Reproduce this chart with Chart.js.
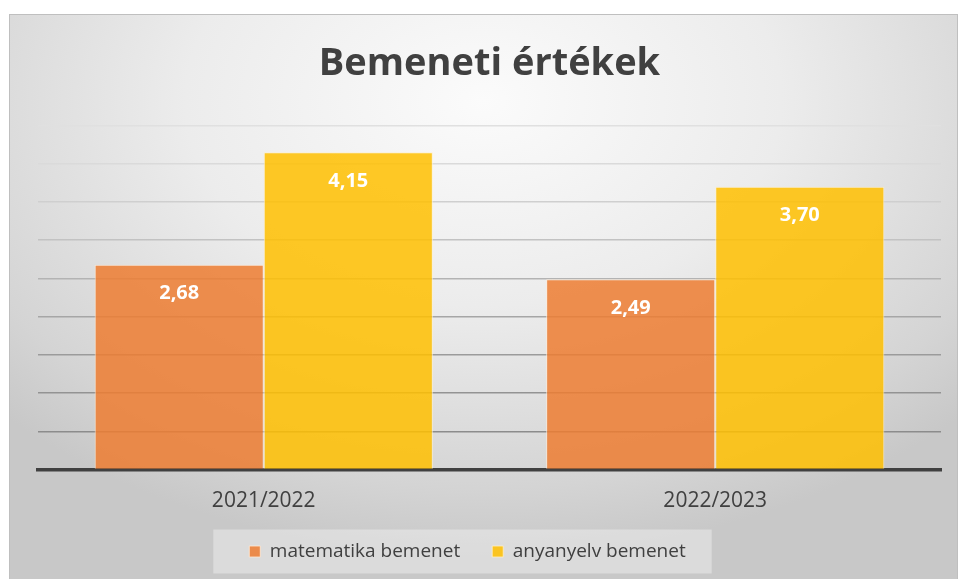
<!DOCTYPE html>
<html>
<head>
<meta charset="utf-8">
<script src="https://cdn.jsdelivr.net/npm/chart.js@4"></script>
<style>
  body { margin: 0; background: #fff; }
  #box {
    position: absolute; left: 9px; top: 14px; width: 947px; height: 570px;
    border: 1px solid #bfbfbf;
    background: radial-gradient(ellipse 70% 80% at 50% 15%, #fbfbfb 0%, #ececec 45%, #d4d4d4 85%, #c8c8c8 100%);
  }
  #wrap { position: absolute; left: 0; top: 0; width: 947px; height: 564px; }
</style>
</head>
<body>
<div id="box"><div id="wrap"><canvas id="inputs"></canvas></div></div>
<script>
// data
var years = ['2021/2022', '2022/2023'];
var mathValues = [2.68, 2.49];
var langValues = [4.15, 3.70];
var seriesNames = ['matematika bemenet', 'anyanyelv bemenet'];

var fontFamily = '"Open Sans", sans-serif';
var textColor = '#404040';

// value labels inside the bars
var barLabels = {
  id: 'barLabels',
  afterDatasetsDraw: function (chart) {
    var ctx = chart.ctx;
    ctx.save();
    ctx.fillStyle = '#ffffff';
    ctx.font = 'bold 20px ' + fontFamily;
    ctx.textAlign = 'center';
    ctx.textBaseline = 'middle';
    chart.data.datasets.forEach(function (ds, i) {
      chart.getDatasetMeta(i).data.forEach(function (bar, j) {
        var txt = ds.data[j].toFixed(2).replace('.', ',');
        ctx.fillText(txt, bar.x, bar.y + 29);
      });
    });
    ctx.restore();
  }
};

// legend sits a bit left of centre, on a light panel
var legendPanel = {
  id: 'legendPanel',
  afterLayout: function (chart) {
    chart.legend.left -= 22;
    chart.legend.right -= 22;
  },
  beforeDraw: function (chart) {
    var boxes = chart.legend.legendHitBoxes;
    if (!boxes || !boxes.length) return;
    var l = boxes[0].left, r = boxes[boxes.length - 1].left + boxes[boxes.length - 1].width;
    var cy = boxes[0].top + boxes[0].height / 2;
    var ctx = chart.ctx;
    ctx.save();
    ctx.fillStyle = 'rgba(255,255,255,0.35)';
    ctx.fillRect(l - 36, cy - 22, (r - l) + 62, 44);
    ctx.restore();
  }
};

var gridColors = ['#8a8a8a', '#8c8c8c', '#939393', '#9b9b9b', '#a6a6a6', '#b3b3b3', '#c2c2c2', '#cfcfcf', '#dadada', '#e0e0e0'];

var ctx = document.getElementById('inputs');
var chart = new Chart(ctx, {
  type: 'bar',
  data: {
    labels: years,
    datasets: [{
      label: seriesNames[0],
      data: mathValues,
      backgroundColor: 'rgba(237,125,49,0.85)',
      borderColor: 'rgba(255,235,215,0.8)',
      borderWidth: 1
    }, {
      label: seriesNames[1],
      data: langValues,
      backgroundColor: 'rgba(255,192,0,0.85)',
      borderColor: 'rgba(255,240,200,0.8)',
      borderWidth: 1
    }]
  },
  options: {
    responsive: true,
    maintainAspectRatio: false,
    animation: false,
    categoryPercentage: 0.749,
    barPercentage: 1,
    layout: { padding: { left: 28, right: 16, top: 0, bottom: 8 } },
    plugins: {
      title: {
        display: true,
        text: 'Bemeneti értékek',
        color: textColor,
        font: { family: fontFamily, size: 38, weight: 'bold' },
        padding: { top: 26, bottom: 39 }
      },
      legend: {
        position: 'bottom',
        labels: {
          color: textColor,
          font: { family: fontFamily, size: 19 },
          boxWidth: 11,
          boxHeight: 11,
          padding: 32
        }
      },
      tooltip: { enabled: false }
    },
    scales: {
      x: {
        grid: { display: false },
        border: { display: true, color: '#404040', width: 3.5 },
        ticks: { color: textColor, font: { family: fontFamily, size: 21 }, padding: 11 },
        afterFit: function (s) { s.height = 40.5; }
      },
      y: {
        min: 0,
        max: 4.5,
        ticks: { display: false, stepSize: 0.5 },
        border: { display: false },
        grid: {
          drawTicks: false,
          lineWidth: 1.5,
          color: function (c) { return gridColors[c.index] || '#e0e0e0'; }
        },
        afterFit: function (s) { s.width = 0; }
      }
    }
  },
  plugins: [legendPanel, barLabels]
});
</script>
</body>
</html>
